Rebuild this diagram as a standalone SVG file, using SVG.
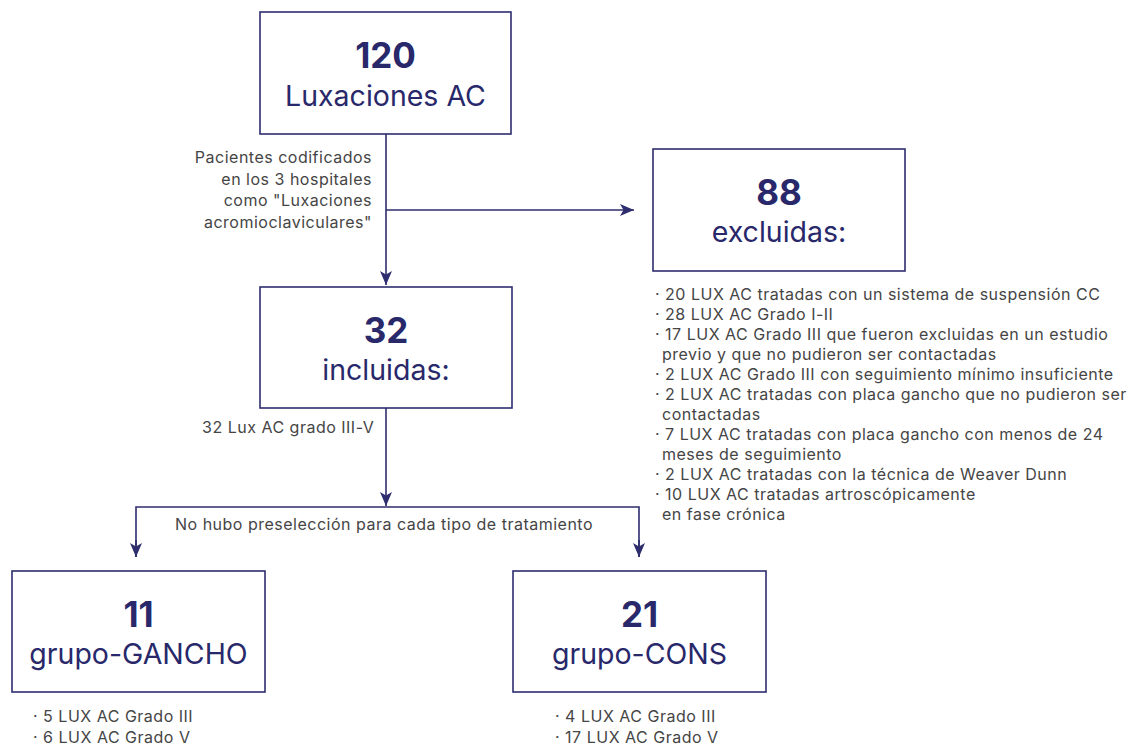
<svg xmlns="http://www.w3.org/2000/svg" width="1128" height="746" viewBox="0 0 1128 746">
<defs>
<style>
.box{fill:#ffffff;stroke:#2e2d6e;stroke-width:1.6}
.num{font-family:Inter,"Liberation Sans",sans-serif;font-weight:700;font-size:35px;fill:#28286a;text-anchor:middle}
.lbl{font-family:Inter,"Liberation Sans",sans-serif;font-weight:400;font-size:28.5px;fill:#28286a;text-anchor:middle}
.txt{font-family:Inter,"Liberation Sans",sans-serif;font-size:16px;letter-spacing:0.5px;fill:#454545}
.line{fill:none;stroke:#2e2d6e;stroke-width:1.6}
</style>
<marker id="arr" markerUnits="userSpaceOnUse" markerWidth="16" markerHeight="14" refX="14" refY="6" orient="auto">
<path d="M0,0 L14,6 L0,12 L3.5,6 Z" fill="#2e2d6e"/>
</marker>
</defs>
<rect width="1128" height="746" fill="#ffffff"/>

<g id="connectors">
<line class="line" x1="386" y1="134" x2="386" y2="285" marker-end="url(#arr)"/>
<line class="line" x1="386" y1="210" x2="634" y2="210" marker-end="url(#arr)"/>
<line class="line" x1="386" y1="408" x2="386" y2="506" marker-end="url(#arr)"/>
<polyline class="line" points="136,557 136,507 639,507 639,557"/>
<line class="line" x1="136" y1="540" x2="136" y2="557" marker-end="url(#arr)"/>
<line class="line" x1="639" y1="540" x2="639" y2="557" marker-end="url(#arr)"/>
<text class="txt" text-anchor="end"><tspan x="372" y="163">Pacientes codificados</tspan><tspan x="372" y="184.5">en los 3 hospitales</tspan><tspan x="372" y="206">como "Luxaciones</tspan><tspan x="372" y="227.5">acromioclaviculares"</tspan></text>
<text class="txt" x="202" y="433">32 Lux AC grado III-V</text>
<text class="txt" x="175" y="530">No hubo preselección para cada tipo de tratamiento</text>
</g>

<g id="node-120">
<rect class="box" x="260" y="12" width="251" height="122"/>
<text class="num" x="385.5" y="68">120</text>
<text class="lbl" x="385.5" y="106">Luxaciones AC</text>
</g>

<g id="node-88">
<rect class="box" x="653" y="149" width="252" height="122"/>
<text class="num" x="779" y="205">88</text>
<text class="lbl" x="779" y="242">excluidas:</text>
</g>

<g id="node-88-list">
<text class="txt">
<tspan x="655" y="300">· 20 LUX AC tratadas con un sistema de suspensión CC</tspan>
<tspan x="655" y="320">· 28 LUX AC Grado I-II</tspan>
<tspan x="655" y="340">· 17 LUX AC Grado III que fueron excluidas en un estudio</tspan>
<tspan x="662" y="360">previo y que no pudieron ser contactadas</tspan>
<tspan x="655" y="380">· 2 LUX AC Grado III con seguimiento mínimo insuficiente</tspan>
<tspan x="655" y="400">· 2 LUX AC tratadas con placa gancho que no pudieron ser</tspan>
<tspan x="662" y="420">contactadas</tspan>
<tspan x="655" y="440">· 7 LUX AC tratadas con placa gancho con menos de 24</tspan>
<tspan x="662" y="460">meses de seguimiento</tspan>
<tspan x="655" y="480">· 2 LUX AC tratadas con la técnica de Weaver Dunn</tspan>
<tspan x="655" y="500">· 10 LUX AC tratadas artroscópicamente</tspan>
<tspan x="662" y="520">en fase crónica</tspan>
</text>
</g>

<g id="node-32">
<rect class="box" x="260" y="287" width="252" height="121"/>
<text class="num" x="386" y="343">32</text>
<text class="lbl" x="386" y="380">incluidas:</text>
</g>

<g id="node-11">
<rect class="box" x="12" y="571" width="253" height="121"/>
<text class="num" x="138.5" y="627">11</text>
<text class="lbl" x="138.5" y="664">grupo-GANCHO</text>
<text class="txt"><tspan x="33" y="722">· 5 LUX AC Grado III</tspan><tspan x="33" y="743">· 6 LUX AC Grado V</tspan></text>
</g>

<g id="node-21">
<rect class="box" x="513" y="571" width="253" height="121"/>
<text class="num" x="639.5" y="627">21</text>
<text class="lbl" x="639.5" y="664">grupo-CONS</text>
<text class="txt"><tspan x="555" y="722">· 4 LUX AC Grado III</tspan><tspan x="555" y="743">· 17 LUX AC Grado V</tspan></text>
</g>
</svg>
